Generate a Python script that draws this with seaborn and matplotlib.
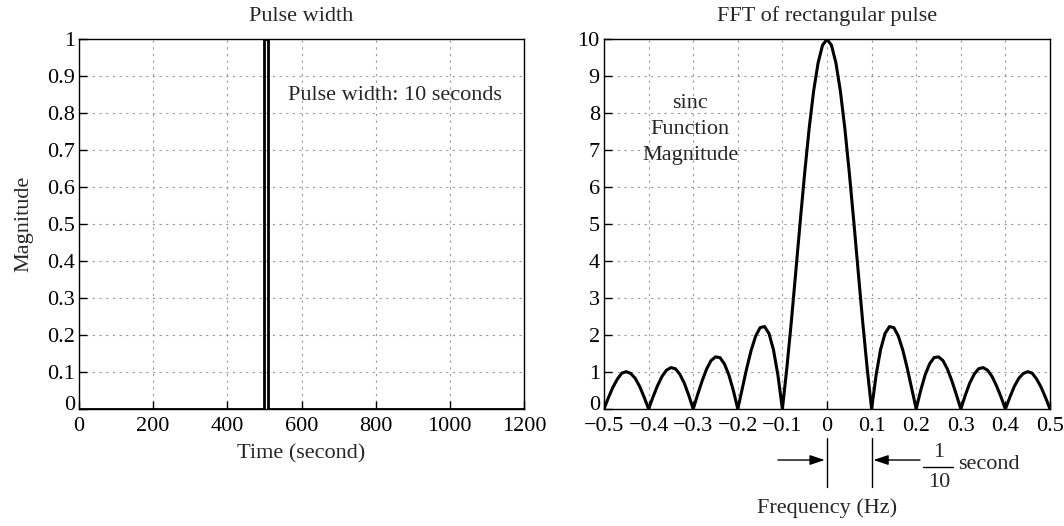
import numpy as np
import pandas as pd
import matplotlib
matplotlib.use("Agg")
import matplotlib.pyplot as plt
import matplotlib.transforms as mtransforms
import seaborn as sns

# ---- data ----
pulse_time = [0, 500, 500, 510, 510, 1200]
pulse_mag = [0, 0, 1, 1, 0, 0]

freq = np.linspace(-0.5, 0.5, 101)
fft_mag = [
    0.00, 0.31, 0.59, 0.81, 0.97, 1.01, 0.96, 0.83, 0.61, 0.32,
    0.00, 0.33, 0.63, 0.88, 1.05, 1.12, 1.09, 0.94, 0.70, 0.37,
    0.00, 0.39, 0.76, 1.08, 1.31, 1.41, 1.39, 1.22, 0.92, 0.50,
    0.00, 0.55, 1.10, 1.59, 1.97, 2.20, 2.23, 2.04, 1.60, 0.91,
    0.00, 1.11, 2.36, 3.71, 5.08, 6.39, 7.59, 8.60, 9.36, 9.84,
    10.00,
    9.84, 9.36, 8.60, 7.59, 6.39, 5.08, 3.71, 2.36, 1.11, 0.00,
    0.91, 1.60, 2.04, 2.23, 2.20, 1.97, 1.59, 1.10, 0.55, 0.00,
    0.50, 0.92, 1.22, 1.39, 1.41, 1.31, 1.08, 0.76, 0.39, 0.00,
    0.37, 0.70, 0.94, 1.09, 1.12, 1.05, 0.88, 0.63, 0.33, 0.00,
    0.32, 0.61, 0.83, 0.96, 1.01, 0.97, 0.81, 0.59, 0.31, 0.00,
]

left_xticks = [0, 200, 400, 600, 800, 1000, 1200]
left_yticks = [0, 0.1, 0.2, 0.3, 0.4, 0.5, 0.6, 0.7, 0.8, 0.9, 1]
left_yticklabels = ["0", "0.1", "0.2", "0.3", "0.4", "0.5", "0.6", "0.7", "0.8", "0.9", "1"]
right_xticks = [-0.5, -0.4, -0.3, -0.2, -0.1, 0, 0.1, 0.2, 0.3, 0.4, 0.5]
right_xticklabels = ["\u22120.5", "\u22120.4", "\u22120.3", "\u22120.2", "\u22120.1",
                     "0", "0.1", "0.2", "0.3", "0.4", "0.5"]
right_yticks = list(range(0, 11))

df_pulse = pd.DataFrame({"t": pulse_time, "m": pulse_mag})
df_fft = pd.DataFrame({"f": freq, "m": fft_mag})

# ---- style ----
sns.set_theme(style="white")
plt.rcParams["font.family"] = ["Liberation Serif", "DejaVu Serif"]
FS = 16

W, H = 1064, 526
fig = plt.figure(figsize=(10.64, 5.26), dpi=100)
ax1 = fig.add_axes([79 / W, 1 - 409 / H, 445 / W, 369.7 / H])
ax2 = fig.add_axes([604 / W, 1 - 409 / H, 446 / W, 369.7 / H])

for ax in (ax1, ax2):
    for s in ax.spines.values():
        s.set_color("black")
        s.set_linewidth(1.0)
    ax.tick_params(axis="both", direction="in", length=6, width=1, colors="black",
                   labelsize=FS, left=True, bottom=True, top=False, right=False)
    ax.tick_params(axis="x", pad=6)
    ax.tick_params(axis="y", pad=3)
    ax.grid(True, linestyle=(0, (2, 4)), color="#999999", linewidth=0.8)
    ax.set_axisbelow(True)

# left panel
sns.lineplot(data=df_pulse, x="t", y="m", ax=ax1, sort=False, color="black",
             linewidth=2.0, estimator=None)
ax1.set_xlim(0, 1200)
ax1.set_ylim(0, 1)
ax1.set_xticks(left_xticks)
ax1.set_yticks(left_yticks)
ax1.set_yticklabels(left_yticklabels)
ax1.set_title("Pulse width", fontsize=FS, pad=13)
ax1.set_xlabel("Time (second)", fontsize=FS, labelpad=6)
ax1.set_ylabel("Magnitude", fontsize=FS, labelpad=10)
ax1.text(852, 0.849, "Pulse width: 10 seconds", fontsize=FS, ha="center", va="center")

# right panel
sns.lineplot(data=df_fft, x="f", y="m", ax=ax2, color="black", linewidth=2.2,
             estimator=None)
ax2.set_xlim(-0.5, 0.5)
ax2.set_ylim(0, 10)
ax2.set_xticks(right_xticks)
ax2.set_xticklabels(right_xticklabels)
ax2.set_yticks(right_yticks)
ax2.set_title("FFT of rectangular pulse", fontsize=FS, pad=13)
ax2.set_xlabel("")
ax2.set_ylabel("")
ax2.text(-0.307, 7.55, "sinc\nFunction\nMagnitude", fontsize=FS, ha="center",
         va="center", linespacing=1.5)

# nudge the bottom y label of each panel up a little so it clears the x labels
for ax in (ax1, ax2):
    lab0 = ax.get_yticklabels()[0]
    lab0.set_transform(lab0.get_transform() +
                       mtransforms.ScaledTranslation(0, 4 / 72, fig.dpi_scale_trans))

# annotation below axis
tr = ax2.get_xaxis_transform()
for xv in (0.0, 0.1):
    ax2.plot([xv, xv], [-0.078, -0.211], transform=tr, color="black",
             linewidth=1.0, clip_on=False)
arrow_kw = dict(arrowstyle="-|>,head_length=0.6,head_width=0.2", color="black",
                lw=1.0, mutation_scale=15, shrinkA=0, shrinkB=0)
ax2.annotate("", xy=(-0.005, -0.138), xytext=(-0.110, -0.138), xycoords=tr,
             textcoords=tr, arrowprops=arrow_kw, annotation_clip=False)
ax2.annotate("", xy=(0.104, -0.138), xytext=(0.2085, -0.138), xycoords=tr,
             textcoords=tr, arrowprops=arrow_kw, annotation_clip=False)
# fraction 1/10
ax2.text(0.251, -0.118, "1", transform=tr, fontsize=FS, ha="center", va="center")
ax2.plot([0.215, 0.283], [-0.157, -0.157], transform=tr, color="black",
         linewidth=1.0, clip_on=False)
ax2.text(0.251, -0.198, "10", transform=tr, fontsize=FS, ha="center", va="center")
ax2.text(0.294, -0.150, "second", transform=tr, fontsize=FS, ha="left",
         va="center")
ax2.text(0.0, -0.268, "Frequency (Hz)", transform=tr, fontsize=FS, ha="center",
         va="center")

fig.savefig("out.png", dpi=100)
